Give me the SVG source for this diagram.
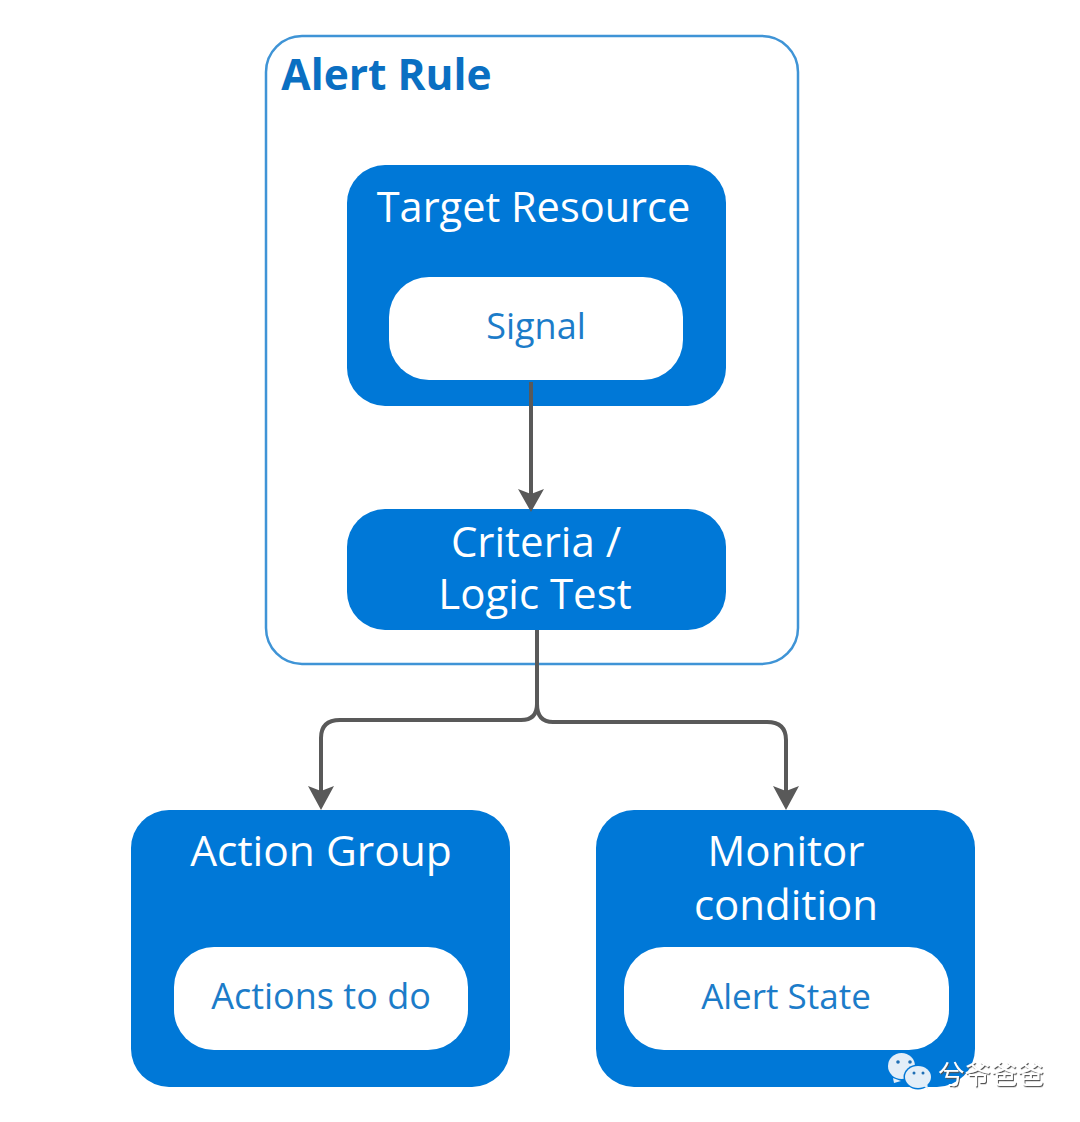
<svg xmlns="http://www.w3.org/2000/svg" width="1080" height="1122" viewBox="0 0 1080 1122">
<style>
.b{fill:#0078d7}
.w{fill:#fff}
text{font-family:"Open Sans","Noto Sans",sans-serif;text-anchor:middle}
.t{font-size:42px;fill:#fff}
.s{font-size:36px;fill:#1c7cc9}
.c{fill:none;stroke:#595959;stroke-width:4}
.h{fill:#595959}
.bub{fill:#e3eef8}
.eye{fill:#1f6fb5}
</style>
<defs><filter id="sh" x="-5%" y="-10%" width="110%" height="125%"><feDropShadow dx="1" dy="1.2" stdDeviation="0.5" flood-color="#555"/></filter></defs>
<rect width="1080" height="1122" fill="#fff"/>
<g id="alert-rule"><rect x="266" y="36" width="532" height="628" rx="36" fill="#fff" stroke="#3f94d6" stroke-width="2.5"/>
<text x="386.500" y="90" style="font-size:42.500px;font-weight:700;fill:#0a6fc2">Alert Rule</text></g>
<g id="target-resource"><rect class="b" x="347" y="165" width="379" height="241" rx="38"/><text class="t" x="533.500" y="222" style="font-size:41.500px">Target Resource</text></g>
<g id="signal"><rect class="w" x="389" y="277" width="294" height="103" rx="40"/><text class="s" x="536" y="339">Signal</text></g>
<g id="criteria"><rect class="b" x="347" y="509" width="379" height="121" rx="38"/><text class="t" x="536" y="557">Criteria /</text><text class="t" x="535" y="609">Logic Test</text></g>
<g id="action-group"><rect class="b" x="131" y="810" width="379" height="277" rx="38"/><text class="t" x="321" y="866" style="font-size:42.500px">Action Group</text></g>
<g id="actions"><rect class="w" x="174" y="947" width="294" height="103" rx="40"/><text class="s" x="321" y="1009">Actions to do</text></g>
<g id="monitor"><rect class="b" x="596" y="810" width="379" height="277" rx="38"/><text class="t" x="786" y="866">Monitor</text><text class="t" x="786" y="920">condition</text></g>
<g id="alert-state"><rect class="w" x="624" y="947" width="325" height="103" rx="40"/><text class="s" x="786" y="1009" style="font-size:35px">Alert State</text></g>
<g id="connectors">
<path class="c" d="M531 382V495"/><path class="h" d="M518 489L531 494L544 489L531 512z"/>
<path class="c" d="M537 630V704Q537 720 521 720H340Q321 720 321 738V792"/><path class="h" d="M308 786L321 791L334 786L321 810z"/>
<path class="c" d="M537 704Q537 722 553 722H767Q786 722 786 740V792"/><path class="h" d="M773 786L786 791L799 786L786 810z"/>
</g>
<g id="watermark">
<path class="bub" d="M893 1078l1 5 7-2z"/><ellipse class="bub" cx="901.500" cy="1066" rx="13.500" ry="13"/>
<ellipse cx="918" cy="1077" rx="14.500" ry="12.500" fill="#0078d7"/>
<path class="bub" d="M922 1085l6 4-1-7z"/><ellipse class="bub" cx="918" cy="1077" rx="13" ry="11"/>
<circle class="eye" cx="898" cy="1062" r="1.800"/><circle class="eye" cx="910" cy="1062" r="1.800"/>
<circle class="eye" cx="914" cy="1073" r="1.500"/><circle class="eye" cx="923" cy="1073" r="1.500"/>
<text x="991" y="1084" filter="url(#sh)" style="font-size:26.500px;fill:#fff;font-family:'Noto Sans CJK SC',sans-serif">兮爷爸爸</text></g>
</svg>
